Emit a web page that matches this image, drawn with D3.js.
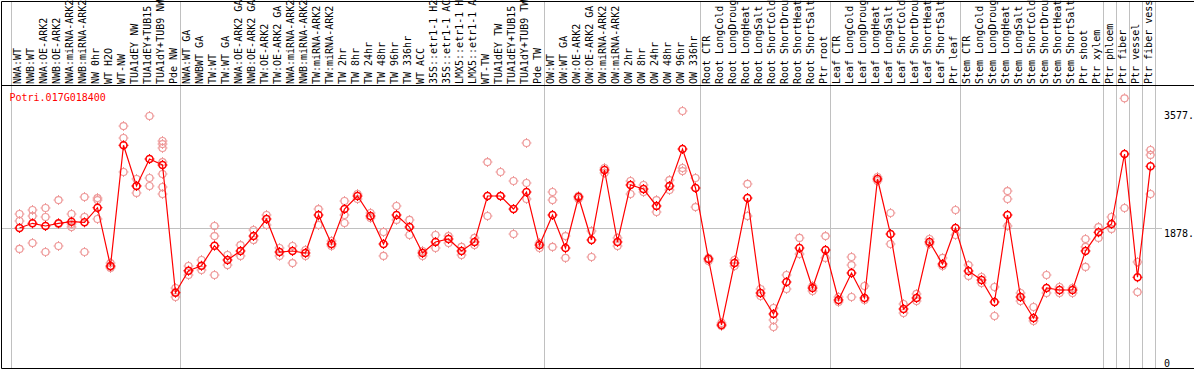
<!DOCTYPE html>
<html>
<head>
<meta charset="utf-8">
<script src="https://cdn.jsdelivr.net/npm/d3@7"></script>
<style>
  html, body { margin: 0; padding: 0; background: #fff; }
  svg { display: block; font-family: "DejaVu Sans Mono", monospace; font-size: 10px; }
</style>
</head>
<body>
<svg id="chart" width="1194" height="370"></svg>
<script>
var geneId = "Potri.017G018400";

var samples = [
  "NWA:WT", "NWB:WT", "NWA:OE-ARK2", "NWB:OE-ARK2", "NWA:miRNA-ARK2", "NWB:miRNA-ARK2",
  "NW 0hr", "WT H2O", "WT-NW", "TUA1dEY NW", "TUA1dEY+TUB15 NW", "TUA1dY+TUB9 NW", "Pde NW",
  "NWA:WT GA", "NWBWT GA", "TW:WT", "TW:WT GA", "NWA:OE-ARK2 GA", "NWB:OE-ARK2 GA",
  "TW:OE-ARK2", "TW:OE-ARK2 GA", "NWA:miRNA-ARK2", "NWB:miRNA-ARK2", "TW:miRNA-ARK2",
  "TW:miRNA-ARK2", "TW 2hr", "TW 8hr", "TW 24hr", "TW 48hr", "TW 96hr", "TW 336hr",
  "WT ACC", "35S::etr1-1 H2O", "35S::etr1-1 ACC", "LMX5::etr1-1 H2O", "LMX5::etr1-1 ACC",
  "WT-TW", "TUA1dEY TW", "TUA1dEY+TUB15 TW", "TUA1dY+TUB9 TW", "Pde TW",
  "OW:WT", "OW:WT GA", "OW:OE-ARK2", "OW:OE-ARK2 GA", "OW:miRNA-ARK2", "OW:miRNA-ARK2",
  "OW 2hr", "OW 8hr", "OW 24hr", "OW 48hr", "OW 96hr", "OW 336hr",
  "Root CTR", "Root LongCold", "Root LongDrought", "Root LongHeat", "Root LongSalt",
  "Root ShortCold", "Root ShortDrought", "Root ShortHeat", "Root ShortSalt", "Ptr root",
  "Leaf CTR", "Leaf LongCold", "Leaf LongDrought", "Leaf LongHeat", "Leaf LongSalt",
  "Leaf ShortCold", "Leaf ShortDrought", "Leaf ShortHeat", "Leaf ShortSalt", "Ptr leaf",
  "Stem CTR", "Stem LongCold", "Stem LongDrought", "Stem LongHeat", "Stem LongSalt",
  "Stem ShortCold", "Stem ShortDrought", "Stem ShortHeat", "Stem ShortSalt", "Ptr shoot",
  "Ptr xylem", "Ptr phloem", "Ptr fiber", "Ptr vessel", "Ptr fiber vessel"
];

var means = [
  1878, 1946, 1907, 1946, 1969, 1960, 2171, 1329, 3073, 2485, 2875, 2788, 943,
  1261, 1333, 1622, 1416, 1546, 1762, 2008, 1531, 1546, 1517, 2066, 1647, 2152,
  2340, 2051, 1647, 2066, 1892, 1517, 1676, 1719, 1546, 1676, 2340, 2340, 2152,
  2398, 1632,
  2066, 1589, 2326, 1705, 2716, 1676, 2499, 2441, 2196, 2485, 3019, 2456,
  1430, 477, 1372, 2311, 939, 636, 1098, 1589, 1011, 1560,
  838, 1228, 867, 2586, 1791, 708, 867, 1676, 1358, 1878,
  1257, 1127, 809, 2066, 881, 578, 1011, 982, 982, 1546,
  1816, 1936, 2947, 1166, 2769
];

var replicates = [
  [2080, 1979, 1575], [2138, 2051, 1661], [2167, 2037, 1531], [2282, 1936, 1618],
  [2080, 1936, 1892], [2326, 2037, 1531], [2311, 2282, 2008], [1372, 1315, 1300],
  [3351, 3178, 2687], [2586, 2485, 2384], [3496, 2600, 2485],
  [3135, 3091, 3034, 2831, 2658, 2470, 2369], [1011, 953, 881],
  [1329, 1257, 1199], [1416, 1329, 1271], [1907, 1762, 1199], [1488, 1343],
  [1632, 1474], [1849, 1705], [2066, 1921], [1589, 1474], [1618, 1372],
  [1560, 1474], [2152, 1921], [1690, 1618], [2268, 2066, 1950], [2369, 2297],
  [2095, 2022], [1820, 1474], [2196, 1994], [1994, 1777], [1546, 1474],
  [1777, 1589], [1762, 1661], [1604, 1488], [1734, 1632], [2831, 2051],
  [2687, 2340], [2557, 1791], [3106, 2528, 2297], [1661, 1589],
  [2398, 2282, 1604], [1762, 1445], [2340, 2297], [1835, 1459], [2745, 2673],
  [1734, 1618], [2557, 2369], [2499, 2398], [2282, 2109], [2571, 2427],
  [3568, 2745, 2701], [2600, 2181],
  [1445, 1401], [506, 462], [1416, 1329], [2514, 2051], [997, 896],
  [722, 549, 448], [1199, 997], [1734, 1502], [1040, 968], [1762, 1445],
  [881, 809], [1459, 1343, 881], [1040, 838], [2615, 2557], [2095, 1647],
  [780, 650], [925, 823], [1719, 1647], [1445, 1329], [2138, 1777],
  [1343, 1185], [1170, 1083], [1026, 607], [2412, 2297, 1907], [939, 823],
  [737, 535], [1199, 939], [1026, 939], [1011, 939], [1719, 1604, 1315],
  [1892, 1734], [2037, 1864], [3752, 2167], [1387, 953], [3005, 2933, 2369]
];

// group boundaries (index of first column in each block, plus the end)
var groupBreaks = [0, 13, 41, 53, 63, 73, 84, 85, 86, 87, 88];

var axisTicks = [3577, 1878, 0];
var axisLabels = ["3577.", "1878.", "0"];
var midValue = 1878;

var width = 1194, height = 370;
var svg = d3.select("#chart");

var x = d3.scaleBand()
  .domain(d3.range(samples.length))
  .range([11.5, 11.5 + 13 * samples.length])
  .padding(0);

var y = d3.scaleLinear().domain([0, midValue]).range([358, 228]);

function colX(i) {
  return i < samples.length ? x(i) : x.range()[1];
}
function cx(i) {
  return x(i) + 8;
}

// vertical separators
svg.append("g")
  .selectAll("line")
  .data(groupBreaks)
  .enter()
  .append("line")
  .attr("x1", function (d) { return colX(d); })
  .attr("x2", function (d) { return colX(d); })
  .attr("y1", 1)
  .attr("y2", 369)
  .style("stroke", "#c0c0c0")
  .style("stroke-width", 1);

// mid grid line
svg.append("line")
  .attr("x1", 1.5)
  .attr("x2", 1162)
  .attr("y1", y(midValue) + 0.5)
  .attr("y2", y(midValue) + 0.5)
  .style("stroke", "#c0c0c0");

// frame
svg.append("path")
  .attr("d", "M" + width + ",1.5H1.5V368.5H" + width)
  .style("fill", "none")
  .style("stroke", "#000");
svg.append("line")
  .attr("x1", 1.5).attr("x2", width)
  .attr("y1", 85.5).attr("y2", 85.5)
  .style("stroke", "#000");

// header labels
svg.append("g")
  .selectAll("text")
  .data(samples)
  .enter()
  .append("text")
  .attr("transform", function (d, i) {
    return "translate(" + (cx(i) + 1.5) + ",84) rotate(-90)";
  })
  .style("fill", "#000")
  .text(function (d) { return d; });

// title
svg.append("text")
  .attr("x", 9.5)
  .attr("y", 100.5)
  .style("fill", "#ff0000")
  .text(geneId);

// right axis labels
svg.append("g")
  .selectAll("text")
  .data(axisTicks)
  .enter()
  .append("text")
  .attr("x", 1164)
  .attr("y", function (d) { return y(d) + 8.5; })
  .style("fill", "#000")
  .text(function (d, i) { return axisLabels[i]; });

var nubs = "M0,-5V-3.5M0,3.5V5M-5,0H-3.5M3.5,0H5";

function marker(g, color, fill, sw) {
  g.append("circle")
    .attr("r", 3.5)
    .style("fill", fill)
    .style("stroke", color)
    .style("stroke-width", sw);
  g.append("path")
    .attr("d", nubs)
    .style("stroke", color)
    .style("stroke-width", 1);
}

// replicate points
var repData = [];
replicates.forEach(function (vals, i) {
  vals.forEach(function (v) { repData.push({ i: i, v: v }); });
});

svg.append("g")
  .selectAll("g")
  .data(repData)
  .enter()
  .append("g")
  .attr("transform", function (d) { return "translate(" + cx(d.i) + "," + y(d.v) + ")"; })
  .each(function () { marker(d3.select(this), "#ee9999", "none", 1.2); });

// mean line
var line = d3.line()
  .x(function (d, i) { return cx(i); })
  .y(function (d) { return y(d); });

svg.append("path")
  .attr("d", line(means))
  .style("fill", "none")
  .style("stroke", "#ff0000")
  .style("stroke-width", 1.2);

svg.append("g")
  .selectAll("g")
  .data(means)
  .enter()
  .append("g")
  .attr("transform", function (d, i) { return "translate(" + cx(i) + "," + y(d) + ")"; })
  .each(function () { marker(d3.select(this), "#ff0000", "none", 1.6); });
</script>
</body>
</html>
